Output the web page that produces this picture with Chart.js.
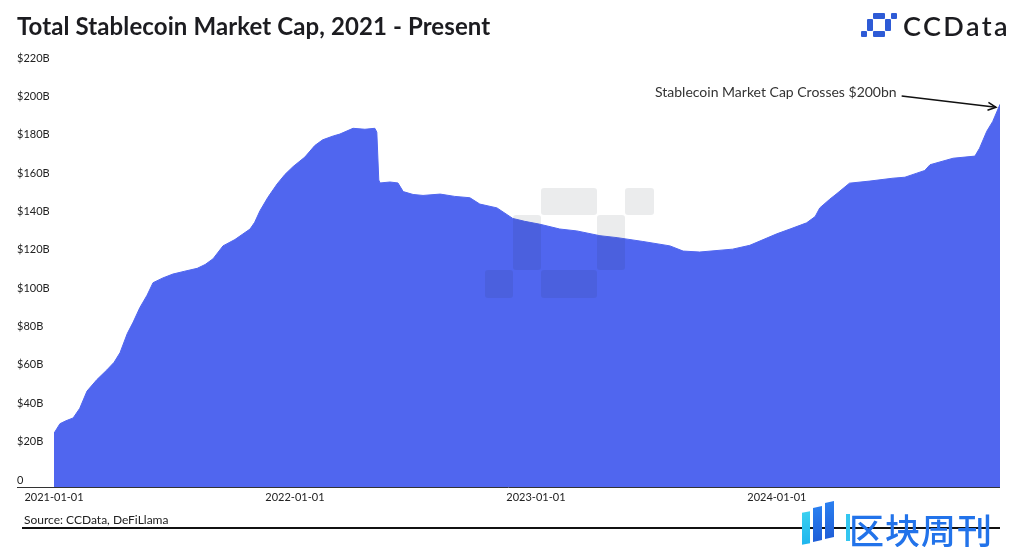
<!DOCTYPE html>
<html><head><meta charset="utf-8">
<script src="https://cdn.jsdelivr.net/npm/chart.js@4.4.1/dist/chart.umd.min.js"></script>
<style>
html,body{margin:0;padding:0;background:#fff;}
#wrap{position:relative;width:1024px;height:547px;overflow:hidden;font-family:Lato,"Open Sans",sans-serif;}
#c{position:absolute;left:0;top:0;}
#title{position:absolute;left:17px;top:11px;font-size:24px;font-weight:700;color:#1c1c20;white-space:nowrap;letter-spacing:0.1px;}
#logoTxt{position:absolute;left:903px;top:9px;font-size:27px;font-weight:600;color:#1c1c20;white-space:nowrap;letter-spacing:2.4px;}
.lg{position:absolute;background:#2e5bd6;border-radius:1px;}
#src{position:absolute;left:24px;top:512px;font-size:12px;color:#222;white-space:nowrap;}
#srcLine{position:absolute;left:22px;top:527px;width:978px;height:1.5px;background:#111;}
#qk{position:absolute;left:849px;top:503px;font-family:"Noto Sans CJK SC",sans-serif;font-size:35px;font-weight:500;color:#2273ea;letter-spacing:1px;white-space:nowrap;}
.qb{position:absolute;transform:skewY(-12deg);}
</style></head>
<body><div id="wrap">
<canvas id="c" width="1024" height="547"></canvas>
<div id="title">Total Stablecoin Market Cap, 2021 - Present</div>
<div class="lg" style="left:873px;top:13px;width:12px;height:6px"></div>
<div class="lg" style="left:891px;top:13px;width:6px;height:6px"></div>
<div class="lg" style="left:867px;top:19px;width:6px;height:12px"></div>
<div class="lg" style="left:885px;top:19px;width:6px;height:12px"></div>
<div class="lg" style="left:861px;top:31px;width:6px;height:6px"></div>
<div class="lg" style="left:873px;top:31px;width:12px;height:6px"></div>
<div id="logoTxt">CCData</div>
<div id="src">Source: CCData, DeFiLlama</div>
<div id="srcLine"></div>
<div class="qb" style="left:802px;top:512px;width:8px;height:32px;background:linear-gradient(#3ad0f0,#1fb6ee)"></div>
<div class="qb" style="left:813px;top:507px;width:9px;height:34px;background:linear-gradient(#2a7ff0,#1f5fd8)"></div>
<div class="qb" style="left:825px;top:502px;width:9px;height:36px;background:linear-gradient(#2a7ff0,#1f5fd8)"></div>
<div style="position:absolute;left:846px;top:514px;width:4px;height:27px;background:#33c6f0"></div>
<div id="qk">区块周刊</div>
</div>
<script>
// ---- data (days since 2021-01-01, total stablecoin market cap in $B) ----
const days = [0,9,18,29,39,50,65,80,91,100,111,120,130,141,150,165,180,198,217,229,241,256,274,297,304,312,324,338,350,362,380,395,407,423,433,453,471,486,489,492,494,509,521,529,544,559,585,607,630,645,671,695,713,736,766,792,827,853,892,933,953,978,1028,1054,1095,1115,1140,1153,1160,1175,1186,1205,1236,1271,1289,1307,1319,1327,1362,1395,1402,1413,1422,1433];
const capB = [28,33,34.5,36,41,50,56,61,65,70,80,86,93.5,100,106.5,109,111,112.5,114,116,119,125.7,129,134.5,138,144,151,158,163,167,172,178,181,183,184,187,186.5,187,185,160,158.5,159,158.5,154,152.5,152,152.7,151.5,150.8,147.5,145.5,140,138.5,137,134.5,133.5,131,130,128,125.7,123,122.5,124,126,132,134.5,137.7,141,145.5,150,153,158.4,159.5,161,161.5,163.6,165,168,171.4,172.5,176.6,185.5,190.6,199.5];
const xTickDays = [0,365,730,1095];
const xTickLabels = ['2021-01-01','2022-01-01','2023-01-01','2024-01-01'];
const yTickValues = [0,20,40,60,80,100,120,140,160,180,200,220];
const yTickLabels = ['0','$20B','$40B','$60B','$80B','$100B','$120B','$140B','$160B','$180B','$200B','$220B'];
const annotText = 'Stablecoin Market Cap Crosses $200bn';

const points = days.map((d,i)=>({x:d,y:capB[i]}));
const wm = [[541,188,56,27],[625,188,29,27],[513,215,28,55],[597,215,28,55],[485,270,28,28],[541,270,56,28]];

const deco = {
  id:'deco',
  afterDatasetsDraw(chart){
    const {ctx, chartArea, scales:{x,y}} = chart;
    ctx.save();
    ctx.fillStyle='rgba(30,40,60,0.09)';
    wm.forEach(r=>{ctx.beginPath(); ctx.roundRect(r[0],r[1],r[2],r[3],3); ctx.fill();});
    ctx.strokeStyle='#333'; ctx.lineWidth=1;
    ctx.beginPath(); ctx.moveTo(17,Math.round(chartArea.bottom)+0.5); ctx.lineTo(chartArea.right,Math.round(chartArea.bottom)+0.5); ctx.stroke();
    const li = days.length-1;
    const px = x.getPixelForValue(days[li]), py = y.getPixelForValue(capB[li]);
    ctx.font='14px Lato, "Open Sans", sans-serif'; ctx.fillStyle='#333'; ctx.textAlign='left'; ctx.textBaseline='middle';
    ctx.fillText(annotText,655,92);
    const w = ctx.measureText(annotText).width;
    const sx = 655+w+5, sy = 96, ex = px-4, ey = py+3;
    ctx.strokeStyle='#111'; ctx.lineWidth=1.5;
    ctx.beginPath(); ctx.moveTo(sx,sy); ctx.lineTo(ex,ey); ctx.stroke();
    const ang = Math.atan2(ey-sy,ex-sx);
    ctx.beginPath();
    ctx.moveTo(ex-9*Math.cos(ang-0.45),ey-9*Math.sin(ang-0.45));
    ctx.lineTo(ex,ey);
    ctx.lineTo(ex-9*Math.cos(ang+0.45),ey-9*Math.sin(ang+0.45));
    ctx.stroke();
    ctx.restore();
  }
};

new Chart(document.getElementById('c'),{
  type:'line',
  data:{datasets:[{data:points,fill:'origin',backgroundColor:'#5066ef',borderColor:'#5066ef',borderWidth:1,pointRadius:0,tension:0}]},
  options:{
    responsive:false,animation:false,
    layout:{padding:{left:17,right:24,top:65,bottom:40}},
    plugins:{legend:{display:false},tooltip:{enabled:false}},
    scales:{
      x:{type:'linear',min:0,max:1433,
        grid:{display:false,drawTicks:false},border:{display:false},
        afterBuildTicks:s=>{s.ticks=xTickDays.map(v=>({value:v}));},
        afterFit:s=>{s.height=20;},
        ticks:{padding:4,maxRotation:0,autoSkip:false,color:'#222',font:{family:'Lato, "Open Sans", sans-serif',size:11},
          callback:(v,i)=>xTickLabels[i]}},
      y:{min:0,max:220,
        grid:{display:false,drawTicks:false},border:{display:false},
        afterBuildTicks:s=>{s.ticks=yTickValues.map(v=>({value:v}));},
        afterFit:s=>{s.width=37;},
        ticks:{crossAlign:'far',labelOffset:-7,padding:0,color:'#222',font:{family:'Lato, "Open Sans", sans-serif',size:11},
          callback:(v,i)=>yTickLabels[i]}}
    }
  },
  plugins:[deco]
});
</script>
</body></html>
